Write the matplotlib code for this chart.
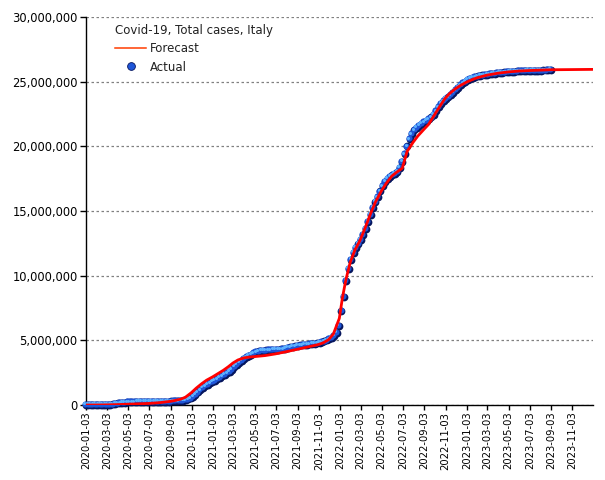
import numpy as np
import pandas as pd
import matplotlib
matplotlib.use("Agg")
import matplotlib.pyplot as plt
import matplotlib.transforms as mtransforms
from matplotlib.lines import Line2D
from matplotlib.ticker import FuncFormatter

# weekly actual total cases (millions), Fridays starting 2020-01-03
actual_2020 = [0, 0, 0, 0, 0,
               0, 0, 0, 0.001,
               0.005, 0.018, 0.047, 0.086,
               0.120, 0.147, 0.172, 0.192,
               0.207, 0.217, 0.223, 0.228, 0.232,
               0.234, 0.236, 0.238, 0.240,
               0.241, 0.242, 0.244, 0.246, 0.247,
               0.249, 0.252, 0.258, 0.265,
               0.275, 0.284, 0.294, 0.306,
               0.317, 0.335, 0.370, 0.430, 0.510,
               0.620, 0.780, 0.970, 1.150,
               1.320, 1.460, 1.580, 1.690]
actual_2021 = [1.78, 1.88, 1.99, 2.10, 2.22,
               2.34, 2.46, 2.58, 2.72,
               2.94, 3.10, 3.27, 3.42,
               3.56, 3.69, 3.80, 3.90, 4.00,
               4.08, 4.14, 4.18, 4.205,
               4.22, 4.233, 4.243, 4.252,
               4.262, 4.274, 4.292, 4.325, 4.362,
               4.406, 4.449, 4.493, 4.532,
               4.570, 4.601, 4.628, 4.652,
               4.676, 4.697, 4.716, 4.737, 4.760,
               4.799, 4.848, 4.911, 4.991,
               5.089, 5.202, 5.339, 5.566, 6.125]
actual_2022 = [7.28, 8.357, 9.602, 10.54,
               11.248, 11.764, 12.159, 12.453,
               12.78, 13.151, 13.645, 14.165,
               14.719, 15.244, 15.698, 16.08, 16.52,
               16.925, 17.242, 17.478, 17.635,
               17.76, 17.88, 18.05, 18.35,
               18.8, 19.4, 20.0, 20.55, 20.95,
               21.25, 21.45, 21.6, 21.74,
               21.86, 21.98, 22.1, 22.24, 22.45,
               22.72, 23.02, 23.29, 23.5,
               23.66, 23.81, 23.96, 24.14,
               24.33, 24.54, 24.72, 24.88, 25.0]
actual_2023 = [25.14, 25.23, 25.3, 25.35,
               25.4, 25.44, 25.48, 25.51,
               25.54, 25.57, 25.6, 25.62, 25.65,
               25.67, 25.69, 25.71, 25.73,
               25.75, 25.77, 25.78, 25.79,
               25.8, 25.81, 25.82, 25.825, 25.83,
               25.835, 25.84, 25.846, 25.852,
               25.86, 25.866, 25.875, 25.885,
               25.9]

forecast_dates = ["2020-01-03", "2020-02-01", "2020-03-01", "2020-04-01", "2020-05-01",
                  "2020-06-01", "2020-07-01", "2020-08-01", "2020-09-01", "2020-09-15",
                  "2020-10-01", "2020-10-15", "2020-11-01", "2020-11-15", "2020-12-01",
                  "2020-12-15", "2021-01-01", "2021-01-15", "2021-02-01", "2021-02-15",
                  "2021-03-01", "2021-03-15", "2021-04-01", "2021-04-15", "2021-05-01",
                  "2021-06-01", "2021-07-01", "2021-08-01", "2021-09-01", "2021-10-01",
                  "2021-11-01", "2021-11-15", "2021-12-01", "2021-12-15", "2022-01-01",
                  "2022-01-10", "2022-01-20", "2022-02-01", "2022-02-15", "2022-03-01",
                  "2022-03-15", "2022-04-01", "2022-04-15", "2022-05-01", "2022-05-15",
                  "2022-06-01", "2022-06-15", "2022-07-01", "2022-07-15", "2022-08-01",
                  "2022-08-15", "2022-09-01", "2022-09-15", "2022-10-01", "2022-10-15",
                  "2022-11-01", "2022-11-15", "2022-12-01", "2022-12-15", "2023-01-01",
                  "2023-01-15", "2023-02-01", "2023-03-01", "2023-04-01", "2023-05-01",
                  "2023-06-01", "2023-07-01", "2023-08-01", "2023-09-01", "2023-12-31"]
forecast_vals = [0.0, 0.0, 0.01, 0.03, 0.06,
                 0.09, 0.12, 0.18, 0.28, 0.35,
                 0.45, 0.60, 0.95, 1.30, 1.65,
                 1.92, 2.17, 2.40, 2.68, 2.95,
                 3.25, 3.48, 3.64, 3.70, 3.74,
                 3.82, 3.95, 4.12, 4.30, 4.48,
                 4.67, 4.80, 5.05, 5.50, 6.70,
                 8.30, 9.70, 11.0, 12.0, 12.7,
                 13.6, 14.8, 15.7, 16.5, 17.1,
                 17.7, 18.0, 18.3, 19.6, 20.3,
                 20.8, 21.3, 21.7, 22.4, 23.0,
                 23.7, 24.1, 24.45, 24.7, 24.95,
                 25.12, 25.3, 25.5, 25.65, 25.75,
                 25.82, 25.86, 25.89, 25.92, 25.95]

xtick_labels = ["2020-01-03", "2020-03-03", "2020-05-03", "2020-07-03", "2020-09-03", "2020-11-03",
                "2021-01-03", "2021-03-03", "2021-05-03", "2021-07-03", "2021-09-03", "2021-11-03",
                "2022-01-03", "2022-03-03", "2022-05-03", "2022-07-03", "2022-09-03", "2022-11-03",
                "2023-01-03", "2023-03-03", "2023-05-03", "2023-07-03", "2023-09-03", "2023-11-03"]

actual = np.array(actual_2020 + actual_2021 + actual_2022 + actual_2023) * 1e6
actual_dates = pd.date_range("2020-01-03", periods=len(actual), freq="7D")
fc_dates = pd.to_datetime(forecast_dates)
fc = np.array(forecast_vals) * 1e6
xtick_dates = pd.to_datetime(xtick_labels)

fig = plt.figure(figsize=(6.05, 4.8), dpi=100)
ax = fig.add_axes([86 / 605, 1 - 405 / 480, (593 - 86) / 605, (405 - 17) / 480])

# shaded "ball" markers: dark base, blue body, light highlight
ax.plot(actual_dates, actual, 'o', ms=5.6, mfc='#06165e', mec='none', zorder=3, clip_on=False)
body_tr = mtransforms.offset_copy(ax.transData, fig=fig, x=-0.6, y=0.6, units='points')
ax.plot(actual_dates, actual, 'o', ms=4.4, mfc='#1f56d8', mec='none', zorder=3.1, transform=body_tr, clip_on=False)
hl_tr = mtransforms.offset_copy(ax.transData, fig=fig, x=-1.1, y=1.1, units='points')
ax.plot(actual_dates, actual, 'o', ms=2.2, mfc='#5db2ff', mec='none', zorder=3.2, transform=hl_tr, clip_on=False)

ax.plot(fc_dates, fc, color='#ff0000', lw=2.0, zorder=4)

ax.set_xlim(pd.Timestamp("2020-01-03"), pd.Timestamp("2024-01-01"))
ax.set_ylim(0, 30e6)
ax.set_yticks(np.arange(0, 30e6 + 1, 5e6))
ax.yaxis.set_major_formatter(FuncFormatter(lambda v, p: f"{int(v):,}"))
ax.set_xticks(xtick_dates)
ax.set_xticklabels(xtick_labels, rotation=90)

ax.tick_params(axis='y', direction='out', length=4.5, width=1, pad=1.5, labelsize=8.3, colors='black')
ax.tick_params(axis='x', direction='out', length=3.6, width=1, pad=1.2, labelsize=7.2, colors='black')
for s in ['top', 'right']:
    ax.spines[s].set_visible(False)
for s in ['left', 'bottom']:
    ax.spines[s].set_color('black')
    ax.spines[s].set_linewidth(1)

ax.yaxis.grid(True, color='#808080', linestyle=(0, (2, 2)), linewidth=0.9)
ax.set_axisbelow(True)

h_fc = Line2D([], [], color='#ff3c00', lw=1.1)
h_act = Line2D([], [], marker='o', ls='none', ms=5.6, mfc='#1f56d8', mec='#06165e', mew=0.6)
leg = ax.legend([h_fc, h_act], ['Forecast', 'Actual'], title='Covid-19, Total cases, Italy',
                loc='upper left', bbox_to_anchor=(0.058, 0.982), frameon=False,
                fontsize=8.5, title_fontsize=8.5, handlelength=2.6, handletextpad=0.35,
                labelspacing=0.45, borderpad=0, borderaxespad=0, alignment='left')
for t in leg.get_texts():
    t.set_color('#222222')
leg.get_title().set_color('#222222')

fig.savefig("out.png", dpi=100)
